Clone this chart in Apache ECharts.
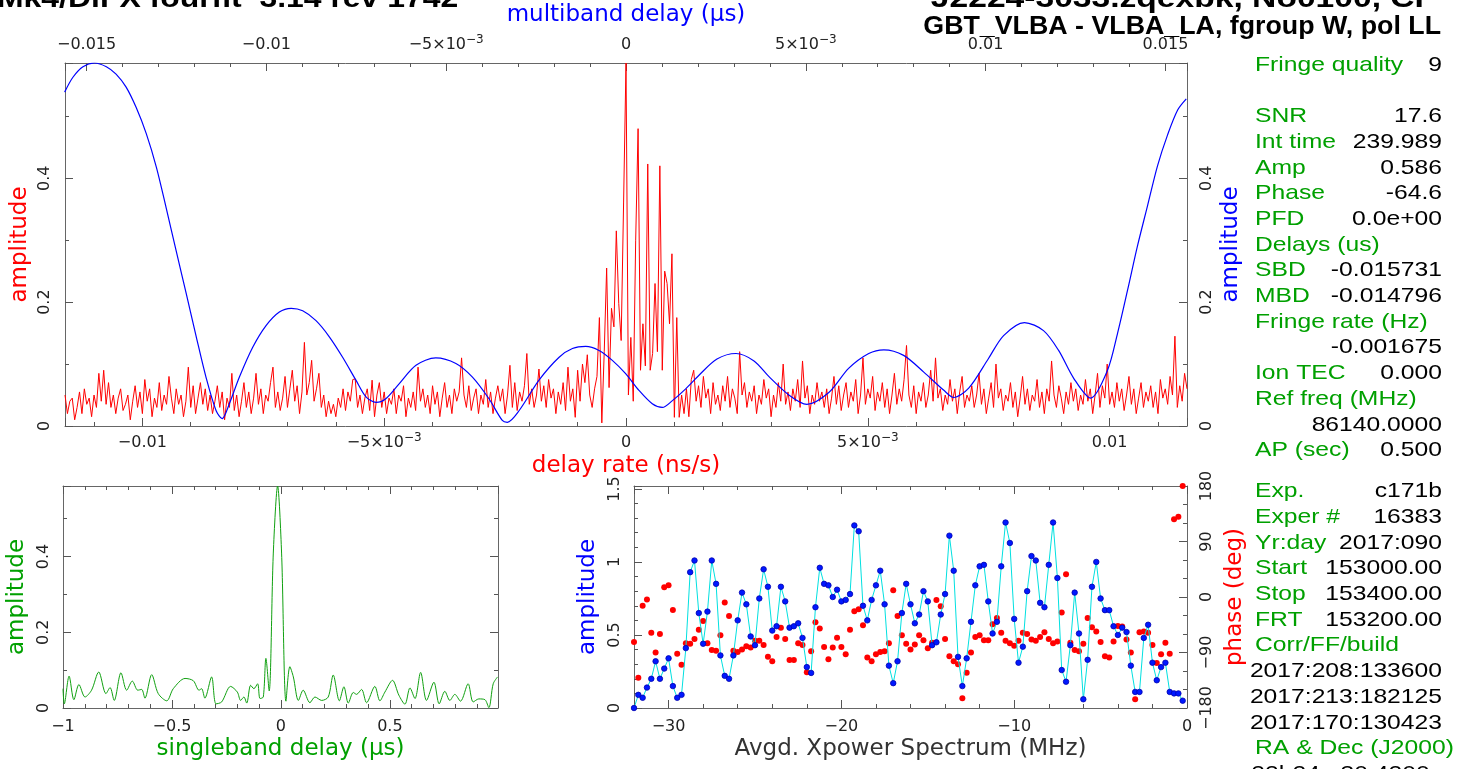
<!DOCTYPE html>
<html>
<head>
<meta charset="utf-8">
<script src="https://cdn.jsdelivr.net/npm/echarts@6/dist/echarts.min.js"></script>
<style>
html, body { margin: 0; padding: 0; background: #fff; }
#chart { width: 1468px; height: 769px; }
</style>
</head>
<body>
<div id="chart"></div>
<script>
// delay rate spectrum (red), evenly spaced from rateMin in steps of rateStep (ns/s)
var rateMin = -0.0116, rateStep = 0.00005;
var rateAmp = [
  0.05,0.02,0.04,0.045,0.01,0.03,0.055,0.02,0.06,0.035,0.045,0.015,0.05,0.03,0.085,
  0.04,0.09,0.035,0.07,0.03,0.05,0.02,0.045,0.06,0.025,0.035,0.05,0.01,0.04,0.065,
  0.03,0.055,0.02,0.075,0.04,0.06,0.015,0.045,0.03,0.07,0.025,0.05,0.035,0.08,0.045,
  0.02,0.06,0.035,0.05,0.015,0.04,0.095,0.03,0.065,0.02,0.045,0.07,0.035,0.06,0.025,
  0.05,0.02,0.04,0.065,0.03,0.055,0.01,0.045,0.03,0.085,0.025,0.05,0.015,0.04,0.07,
  0.03,0.055,0.02,0.045,0.085,0.035,0.06,0.02,0.05,0.04,0.07,0.095,0.03,0.055,0.025,
  0.045,0.08,0.03,0.06,0.09,0.04,0.065,0.02,0.055,0.135,0.05,0.07,0.106,0.04,0.06,
  0.085,0.03,0.05,0.015,0.04,0.02,0.035,0.015,0.045,0.03,0.06,0.025,0.055,0.04,0.075,
  0.076,0.03,0.05,0.02,0.045,0.06,0.025,0.074,0.015,0.05,0.07,0.03,0.055,0.02,0.045,
  0.035,0.06,0.02,0.05,0.04,0.065,0.015,0.045,0.03,0.055,0.025,0.095,0.04,0.06,0.03,
  0.05,0.02,0.065,0.035,0.055,0.015,0.045,0.07,0.03,0.05,0.02,0.06,0.04,0.055,0.11,
  0.05,0.03,0.065,0.025,0.045,0.06,0.02,0.05,0.035,0.075,0.03,0.055,0.02,0.045,0.065,
  0.04,0.06,0.02,0.05,0.098,0.03,0.07,0.025,0.055,0.04,0.065,0.117,0.035,0.06,0.03,
  0.05,0.092,0.04,0.065,0.03,0.075,0.045,0.06,0.02,0.055,0.035,0.07,0.025,0.095,0.04,
  0.06,0.014,0.09,0.04,0.1,0.07,0.115,0.05,0.03,0.06,0.08,0.175,0.005,0.12,0.255,
  0.062,0.19,0.16,0.315,0.198,0.138,0.36,0.586,0.05,0.143,0.04,0.30,0.48,0.09,0.165,
  0.097,0.423,0.09,0.117,0.23,0.12,0.42,0.09,0.25,0.23,0.165,0.278,0.014,0.175,0.014,
  0.05,0.02,0.06,0.015,0.075,0.09,0.04,0.065,0.03,0.08,0.045,0.06,0.02,0.07,0.035,
  0.05,0.025,0.065,0.04,0.08,0.03,0.06,0.045,0.02,0.12,0.05,0.07,0.03,0.055,0.04,
  0.065,0.02,0.05,0.035,0.075,0.045,0.06,0.015,0.05,0.03,0.07,0.04,0.1,0.035,0.055,
  0.025,0.06,0.04,0.075,0.03,0.105,0.045,0.065,0.02,0.05,0.035,0.07,0.04,0.055,0.03,
  0.06,0.02,0.045,0.08,0.035,0.065,0.025,0.05,0.07,0.03,0.055,0.04,0.075,0.02,0.05,
  0.11,0.035,0.06,0.045,0.08,0.025,0.055,0.04,0.07,0.03,0.06,0.02,0.05,0.085,0.035,
  0.06,0.04,0.075,0.13,0.05,0.03,0.065,0.02,0.055,0.04,0.07,0.03,0.05,0.09,0.04,
  0.11,0.045,0.06,0.025,0.05,0.035,0.075,0.04,0.06,0.02,0.055,0.08,0.03,0.05,0.04,
  0.065,0.03,0.05,0.085,0.035,0.06,0.02,0.045,0.07,0.03,0.1,0.045,0.06,0.025,0.05,
  0.04,0.07,0.03,0.055,0.015,0.045,0.08,0.035,0.06,0.025,0.05,0.04,0.075,0.03,0.055,
  0.02,0.06,0.04,0.105,0.05,0.03,0.065,0.045,0.02,0.055,0.035,0.07,0.04,0.06,0.025,
  0.05,0.035,0.075,0.04,0.06,0.02,0.05,0.085,0.03,0.065,0.045,0.1,0.035,0.055,0.03,
  0.07,0.04,0.06,0.025,0.05,0.08,0.035,0.06,0.02,0.045,0.07,0.03,0.055,0.04,0.065,
  0.03,0.055,0.02,0.075,0.045,0.06,0.035,0.08,0.05,0.145,0.03,0.065,0.04,0.085,0.06
];

// multiband delay amplitude (blue)
var mbdDelay = [
  -0.01561,-0.01538,-0.01510,-0.01478,-0.01445,-0.01418,-0.01390,-0.01362,-0.01334,-0.01306,
  -0.01279,-0.01251,-0.01223,-0.01195,-0.01168,-0.01140,-0.01123,-0.01103,-0.01075,-0.01038,
  -0.01001,-0.00964,-0.00931,-0.00899,-0.00862,-0.00825,-0.00788,-0.00751,-0.00723,-0.00695,
  -0.00668,-0.00631,-0.00584,-0.00529,-0.00473,-0.00427,-0.00381,-0.00344,-0.00330,-0.00297,
  -0.00242,-0.00186,-0.00149,-0.00112,-0.00075,-0.00038,-0.00001,0.00036,0.00073,0.00101,
  0.00129,0.00166,0.00203,0.00253,0.00306,0.00356,0.00397,0.00453,0.00503,0.00564,
  0.00619,0.00675,0.00717,0.00772,0.00828,0.00883,0.00911,0.00953,0.01008,0.01050,
  0.01108,0.01161,0.01203,0.01245,0.01292,0.01339,0.01367,0.01395,0.01422,0.01450,
  0.01478,0.01506,0.01534,0.01558
];
var mbdAmp = [
  0.539,0.563,0.580,0.586,0.580,0.568,0.547,0.514,0.472,0.418,
  0.353,0.283,0.214,0.144,0.079,0.025,0.012,0.036,0.079,0.127,
  0.162,0.184,0.190,0.186,0.170,0.144,0.111,0.074,0.047,0.038,
  0.044,0.068,0.098,0.110,0.101,0.079,0.044,0.009,0.006,0.025,
  0.074,0.111,0.125,0.1285,0.122,0.106,0.0845,0.0576,0.036,0.030,
  0.041,0.060,0.082,0.108,0.117,0.105,0.080,0.050,0.035,0.054,
  0.093,0.117,0.123,0.114,0.087,0.058,0.046,0.061,0.109,0.146,
  0.167,0.154,0.122,0.077,0.045,0.09,0.15,0.22,0.29,0.355,
  0.42,0.47,0.51,0.528
];

// singleband delay amplitude (green)
var sbdDelay = [
  -1.0,-0.994,-0.972,-0.950,-0.927,-0.899,-0.869,-0.836,-0.803,-0.784,
  -0.765,-0.734,-0.708,-0.682,-0.657,-0.639,-0.624,-0.593,-0.563,-0.524,
  -0.494,-0.440,-0.402,-0.376,-0.364,-0.349,-0.318,-0.298,-0.272,-0.231,
  -0.200,-0.185,-0.170,-0.157,-0.139,-0.124,-0.107,-0.096,-0.081,-0.069,
  -0.054,-0.035,-0.0153,0.003,0.023,0.041,0.057,0.080,0.102,0.133,
  0.156,0.187,0.217,0.240,0.268,0.289,0.309,0.332,0.347,0.370,
  0.393,0.431,0.454,0.477,0.512,0.541,0.569,0.592,0.615,0.641,
  0.668,0.702,0.726,0.752,0.775,0.798,0.824,0.859,0.882,0.908,
  0.936,0.954,0.974,0.994
];
var sbdAmp = [
  0.051,0.011,0.084,0.022,0.062,0.029,0.047,0.095,0.038,0.054,
  0.020,0.093,0.047,0.071,0.047,0.049,0.026,0.088,0.038,0.019,
  0.051,0.078,0.072,0.047,0.051,0.026,0.082,0.011,0.016,0.057,
  0.042,0.020,0.029,0.013,0.060,0.051,0.064,0.025,0.029,0.131,
  0.045,0.409,0.586,0.409,0.018,0.109,0.082,0.020,0.047,0.014,
  0.029,0.020,0.029,0.087,0.019,0.056,0.013,0.041,0.036,0.049,
  0.014,0.057,0.019,0.042,0.073,0.034,0.010,0.053,0.025,0.094,
  0.020,0.068,0.011,0.044,0.020,0.036,0.018,0.064,0.016,0.024,
  0.022,0.001,0.064,0.082
];

// cross power spectrum, 128 channels of 0.25 MHz from -32 MHz
var freqStart = -32, freqStep = 0.25;
var xpAmp = [
  0.00,0.09,0.07,0.14,0.20,0.32,0.20,0.27,0.34,0.15,0.07,0.09,0.41,0.93,1.01,0.65,
  0.44,0.66,1.01,0.85,0.36,0.22,0.20,0.36,0.60,0.79,0.71,0.49,0.43,0.75,0.95,0.83,
  0.53,0.56,0.83,0.73,0.55,0.56,0.58,0.48,0.28,0.24,0.69,0.96,0.85,0.84,0.76,0.81,
  0.73,0.74,0.78,1.25,1.21,0.70,0.60,0.74,0.84,0.94,0.71,0.29,0.17,0.32,0.65,0.85,
  0.71,0.58,0.64,0.80,0.73,0.43,0.45,0.64,0.78,1.18,0.94,0.35,0.15,0.34,0.59,0.84,
  0.97,0.98,0.73,0.51,0.59,0.97,1.27,1.13,0.61,0.31,0.42,0.80,1.04,1.01,0.72,0.69,
  0.98,1.27,0.89,0.26,0.18,0.43,0.79,0.51,0.06,0.33,0.83,1.00,0.75,0.67,0.67,0.56,
  0.50,0.55,0.52,0.29,0.11,0.11,0.48,0.57,0.31,0.19,0.28,0.31,0.11,0.10,0.10,0.05
];
var xpPhase = [
  -73,-131,-14,-4,-58,-90,-60,16,19,-21,-92,-110,-75,-76,-68,-53,
  -39,-75,-86,-87,-62,-9,-31,-87,-89,-85,-80,-82,-71,-71,-78,-97,
  -104,-65,-50,-68,-102,-102,-75,-78,-122,-88,-41,-51,-81,-101,-82,-66,
  -81,-93,-53,-23,-20,-46,-98,-104,-93,-89,-88,-75,11,-31,-62,-76,
  -85,-77,-62,-70,-83,-74,-5,-15,-68,-96,-104,-109,-164,-123,-90,-65,
  -62,-70,-70,-44,-34,-58,-71,-75,-79,-71,-58,-60,-69,-71,-65,-57,
  -68,-75,-72,-25,37,-74,-86,-88,-76,-34,-49,-56,-73,-96,-98,-72,
  -47,-48,-69,-90,-166,-57,-56,-58,-78,-107,-93,-74,-92,126,130,180
];

// text panel on the right
var panelTop = [
  ['Fringe quality', '9'], null,
  ['SNR', '17.6'], ['Int time', '239.989'], ['Amp', '0.586'], ['Phase', '-64.6'],
  ['PFD', '0.0e+00'], ['Delays (us)', ''], ['SBD', '-0.015731'], ['MBD', '-0.014796'],
  ['Fringe rate (Hz)', ''], ['', '-0.001675'], ['Ion TEC', '0.000'],
  ['Ref freq (MHz)', ''], ['', '86140.0000'], ['AP (sec)', '0.500']
];
var panelBottom = [
  ['Exp.', 'c171b'], ['Exper #', '16383'], ['Yr:day', '2017:090'],
  ['Start', '153000.00'], ['Stop', '153400.00'], ['FRT', '153200.00'],
  ['Corr/FF/build', ''], ['', '2017:208:133600'], ['', '2017:213:182125'],
  ['', '2017:170:130423'], ['RA & Dec (J2000)', ''], ['', '22h24m30.4200s']
];

var tickFont = 'DejaVu Sans';
var green = '#00a000';

function fmt(v) {
  if (v === 0) return '0';
  var a = Math.abs(v);
  return (v < 0 ? '−' : '') + String(+a.toFixed(6));
}

// delay axes: 5e-3 written with a raised exponent
function fmtDelay(v) {
  var sign = v < 0 ? '−' : '';
  if (Math.abs(Math.abs(v) - 0.005) < 1e-9) return '{a|' + sign + '5×10}{b|−3}';
  return '{a|' + fmt(v) + '}';
}
var delayRich = {
  a: { fontFamily: tickFont, fontSize: 16, color: '#222', lineHeight: 22 },
  b: { fontFamily: tickFont, fontSize: 12, color: '#222', verticalAlign: 'top', lineHeight: 14 }
};

function axis(o) {
  return {
    type: 'value', gridIndex: o.grid, position: o.pos,
    min: o.min, max: o.max, interval: o.interval, splitNumber: o.split,
    name: o.name || '', nameLocation: 'middle', nameGap: o.nameGap || 30,
    nameMoveOverlap: false,
    nameTextStyle: { color: o.nameColor || '#333', fontFamily: tickFont, fontSize: 23 },
    axisLine: { show: true, onZero: false, lineStyle: { color: '#666', width: 1 } },
    axisTick: { show: true, inside: true, length: 8, lineStyle: { color: '#555' } },
    minorTick: { show: true, splitNumber: o.minor, length: 4, lineStyle: { color: '#555' } },
    splitLine: { show: false },
    axisLabel: {
      show: o.labels !== false, rotate: o.rotate || 0, margin: o.margin || 10,
      fontFamily: tickFont, fontSize: 16, color: '#222',
      formatter: o.rich ? fmtDelay : fmt, rich: o.rich ? delayRich : undefined,
      showMinLabel: o.showMin !== false, showMaxLabel: o.showMax !== false
    }
  };
}

function pairs(xs, ys) {
  return ys.map(function (y, i) { return [xs[i], y]; });
}

var ratePairs = rateAmp.map(function (a, i) { return [rateMin + i * rateStep, a]; });
var freqs = xpAmp.map(function (a, i) { return freqStart + i * freqStep; });

// text panel as graphic elements
var graphics = [];
function panelText(x, y, text, color, align, sx, font) {
  graphics.push({
    type: 'text', x: x, y: y, scaleX: sx,
    style: { text: text, fill: color, font: font, align: align, verticalAlign: 'middle',
             textAlign: align, textVerticalAlign: 'middle' }
  });
}
var pFont = '21px "Liberation Sans"';
function panelBlock(rows, top) {
  rows.forEach(function (r, k) {
    if (!r) return;
    var y = top + k * 25.7;
    if (r[0]) panelText(1255, y, r[0], green, 'left', 1.175, pFont);
    if (r[1]) panelText(1442, y, r[1], '#000', 'right', 1.175, pFont);
  });
}
panelBlock(panelTop, 65);
panelBlock(panelBottom, 491.5);

var tFont = 'bold 28px "Liberation Sans"';
panelText(-3, -1, 'Mk4/DiFX fourfit  3.14 rev 1742', '#000', 'left', 1.14, tFont);
panelText(1437, -1, 'J2224-3033.zqexbk, No0100, CP', '#000', 'right', 1.2, tFont);
panelText(1441, 27, 'GBT_VLBA - VLBA_LA, fgroup W, pol LL', '#000', 'right', 1.03, 'bold 26px "Liberation Sans"');

var chart = echarts.init(document.getElementById('chart'));
chart.setOption({
  backgroundColor: '#fff',
  animation: false,
  grid: [
    { left: 65, top: 63, width: 1122, height: 363 },
    { left: 63, top: 486, width: 435, height: 222 },
    { left: 634, top: 486, width: 553, height: 222 }
  ],
  xAxis: [
    axis({ grid: 0, pos: 'bottom', min: -0.0116, max: 0.0116, split: 5, minor: 5, showMin: false, showMax: false,
           name: 'delay rate (ns/s)', nameColor: '#ff0000', nameGap: 29, margin: 6, rich: true }),
    axis({ grid: 0, pos: 'top', min: -0.0156, max: 0.0156, split: 5, minor: 5, showMin: false, showMax: false,
           name: 'multiband delay (μs)', nameColor: '#0000ff', nameGap: 36, margin: 7, rich: true }),
    axis({ grid: 1, pos: 'bottom', min: -1, max: 0.996, split: 4, minor: 5, showMax: false,
           name: 'singleband delay (μs)', nameColor: green, nameGap: 30, margin: 11 }),
    axis({ grid: 1, pos: 'top', min: -1, max: 0.996, split: 4, minor: 5, labels: false }),
    axis({ grid: 2, pos: 'bottom', min: -32, max: 0, split: 3, minor: 5, showMin: false,
           name: 'Avgd. Xpower Spectrum (MHz)', nameColor: '#333', nameGap: 30, margin: 11 }),
    axis({ grid: 2, pos: 'top', min: -32, max: 0, split: 3, minor: 5, labels: false })
  ],
  yAxis: [
    axis({ grid: 0, pos: 'left', min: 0, max: 0.586, interval: 0.2, minor: 2, showMax: false, rotate: 90,
           name: 'amplitude', nameColor: '#ff0000', nameGap: 33, margin: 12 }),
    axis({ grid: 0, pos: 'right', min: 0, max: 0.586, interval: 0.2, minor: 2, showMax: false, rotate: 90,
           name: 'amplitude', nameColor: '#0000ff', nameGap: 33, margin: 12 }),
    axis({ grid: 1, pos: 'left', min: 0, max: 0.586, interval: 0.2, minor: 2, showMax: false, rotate: 90,
           name: 'amplitude', nameColor: green, nameGap: 34, margin: 11 }),
    axis({ grid: 1, pos: 'right', min: 0, max: 0.586, interval: 0.2, minor: 2, labels: false }),
    axis({ grid: 2, pos: 'left', min: 0, max: 1.52, interval: 0.5, minor: 5, showMax: false, rotate: 90,
           name: 'amplitude', nameColor: '#0000ff', nameGap: 34, margin: 11 }),
    axis({ grid: 2, pos: 'right', min: -180, max: 180, interval: 90, minor: 3, rotate: 90,
           name: 'phase (deg)', nameColor: '#ff0000', nameGap: 37, margin: 12 })
  ],
  series: [
    { type: 'line', xAxisIndex: 0, yAxisIndex: 0, data: ratePairs, showSymbol: false, silent: true,
      lineStyle: { color: '#ff0000', width: 1 }, itemStyle: { color: '#ff0000' }, z: 2 },
    { type: 'line', xAxisIndex: 1, yAxisIndex: 1, data: pairs(mbdDelay, mbdAmp), smooth: 0.3,
      showSymbol: false, silent: true, lineStyle: { color: '#0000ff', width: 1.2 }, itemStyle: { color: '#0000ff' }, z: 3 },
    { type: 'line', xAxisIndex: 2, yAxisIndex: 2, data: pairs(sbdDelay, sbdAmp), smooth: 0.3,
      showSymbol: false, silent: true, lineStyle: { color: '#10a010', width: 1 }, itemStyle: { color: '#10a010' } },
    { type: 'line', xAxisIndex: 4, yAxisIndex: 4, data: pairs(freqs, xpAmp), silent: true,
      showSymbol: true, symbol: 'circle', symbolSize: 5.5,
      itemStyle: { color: '#0018ff', borderColor: '#0000b0', borderWidth: 0.8, opacity: 1 },
      lineStyle: { color: '#00e0e0', width: 1 } },
    { type: 'scatter', xAxisIndex: 4, yAxisIndex: 5, data: pairs(freqs, xpPhase), silent: true,
      symbolSize: 6, itemStyle: { color: '#ff0000', opacity: 1 } }
  ],
  graphic: graphics
});
</script>
</body>
</html>
